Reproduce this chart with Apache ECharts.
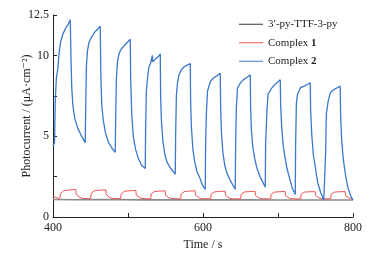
<!DOCTYPE html>
<html>
<head>
<meta charset="utf-8">
<script src="https://cdn.jsdelivr.net/npm/echarts@6/dist/echarts.min.js"></script>
<style>
  html, body { margin: 0; padding: 0; background: #fff; }
  #chart { width: 380px; height: 256px; }
</style>
</head>
<body>
<div id="chart"></div>
<script>
// [time (s), photocurrent (uA/cm2)]
const ligandCurrent = [
  [400, 1.08], [430, 1.07], [470, 1.08], [520, 1.06], [560, 1.07],
  [610, 1.06], [660, 1.06], [700, 1.05], [750, 1.05], [800, 1.05]
];

const complex1Current = [
  [400, 1.3], [403, 1.22], [406, 1.17], [409.3, 1.15],
  [409.8, 1.45], [411, 1.55], [414, 1.62], [420, 1.66], [430.5, 1.7],
  [431, 1.4], [433, 1.28], [436, 1.2], [440, 1.15], [450.3, 1.13],
  [450.8, 1.45], [452, 1.56], [455, 1.62], [461, 1.65], [470.5, 1.68],
  [471, 1.38], [473, 1.27], [476, 1.19], [480, 1.15], [490.3, 1.13],
  [490.8, 1.43], [492, 1.53], [495, 1.59], [501, 1.62], [510.5, 1.64],
  [511, 1.36], [513, 1.25], [516, 1.18], [520, 1.14], [530.3, 1.12],
  [530.8, 1.42], [532, 1.52], [535, 1.57], [541, 1.6], [549.5, 1.62],
  [550, 1.35], [552, 1.25], [555, 1.18], [559, 1.14], [570.3, 1.12],
  [570.8, 1.42], [572, 1.52], [575, 1.57], [581, 1.6], [589.5, 1.62],
  [590, 1.35], [592, 1.25], [595, 1.18], [599, 1.14], [610.3, 1.12],
  [610.8, 1.41], [612, 1.5], [615, 1.55], [621, 1.58], [629.5, 1.6],
  [630, 1.34], [632, 1.24], [635, 1.17], [639, 1.13], [650.3, 1.12],
  [650.8, 1.4], [652, 1.5], [655, 1.55], [661, 1.57], [669.5, 1.59],
  [670, 1.33], [672, 1.24], [675, 1.17], [679, 1.13], [690.3, 1.12],
  [690.8, 1.4], [692, 1.49], [695, 1.54], [701, 1.56], [709.5, 1.58],
  [710, 1.33], [712, 1.23], [715, 1.17], [719, 1.13], [730.3, 1.12],
  [730.8, 1.4], [732, 1.49], [735, 1.54], [741, 1.56], [749.5, 1.57],
  [750, 1.33], [752, 1.23], [755, 1.17], [759, 1.13], [770.3, 1.12],
  [770.8, 1.4], [772, 1.49], [775, 1.54], [781, 1.56], [789.5, 1.57],
  [790, 1.32], [792, 1.23], [795, 1.17], [800, 1.13]
];

const complex2Current = [
  [400, 4.4], [401, 4.3], [402, 4.6], [403, 7.2], [404.5, 8.6], [405.5, 8.5],
  [406.5, 9.2], [408, 10.1], [410, 10.8], [413, 11.3], [417, 11.7], [420, 11.9], [423, 12.2],
  [424, 9.8], [425, 8.0], [426.5, 6.9], [429, 6.1], [433, 5.5], [437, 5.1], [443, 4.6],
  [443.5, 6.5], [444.5, 9.3], [446, 10.3], [448, 10.8], [451, 11.1], [455, 11.4], [459, 11.6], [463, 11.8],
  [463.7, 9.0], [465, 6.9], [467, 6.0], [470, 5.2], [474, 4.6], [478, 4.3], [483, 4.0],
  [483.5, 6.0], [484.5, 8.6], [486, 9.6], [488, 10.1], [491, 10.4], [495, 10.6], [499, 10.8], [503, 11.0],
  [503.6, 8.4], [505, 6.4], [507, 5.0], [510, 4.2], [514, 3.6], [518, 3.2], [523, 3.0],
  [523.5, 5.5], [524.5, 7.8], [526, 8.6], [528, 9.3], [530, 9.5], [532, 9.6], [532.5, 10.0], [533, 9.6],
  [537, 9.8], [540, 9.9], [543, 10.1],
  [543.5, 7.5], [544.5, 6.0], [546.5, 4.7], [549, 3.9], [552, 3.4], [557, 3.0], [563, 2.65],
  [563.5, 5.0], [564.5, 7.5], [566, 8.3], [568, 8.8], [571, 9.1], [575, 9.3], [579, 9.4], [583, 9.5],
  [583.5, 7.2], [584.5, 5.6], [586.5, 4.2], [589, 3.4], [592, 2.8], [596, 2.4], [599, 2.0], [603, 1.7],
  [603.5, 4.5], [604.5, 6.4], [606, 7.8], [610, 8.4], [614, 8.6], [619, 8.75], [623, 8.9],
  [623.5, 6.8], [624.5, 5.3], [626.5, 4.0], [629, 3.2], [632, 2.7], [636, 2.3], [643, 1.7],
  [643.5, 4.5], [644.5, 6.8], [646, 8.0], [650, 8.3], [654, 8.5], [659, 8.65], [663, 8.8],
  [663.5, 6.8], [664.5, 5.4], [666.5, 4.3], [669, 3.6], [672, 3.0], [676, 2.5], [683, 1.85],
  [683.5, 4.5], [685.3, 6.6], [686.7, 7.6], [692, 8.0], [697, 8.25], [703, 8.5],
  [703.5, 7.0], [705, 5.5], [707, 4.4], [709, 3.8], [712, 3.0], [716, 2.3], [719, 1.8], [723, 1.4],
  [723.5, 4.5], [724.5, 7.0], [726, 7.6], [730, 8.0], [735, 8.1], [739, 8.2], [743, 8.3],
  [743.5, 6.6], [745, 5.1], [747, 3.9], [750, 3.0], [753, 2.1], [757, 1.5], [761, 1.05], [763, 1.05],
  [763.5, 4.0], [764.5, 6.4], [767, 7.2], [770, 7.7], [775, 7.9], [779, 8.0], [783, 8.1],
  [783.5, 6.2], [785, 4.7], [787, 3.6], [790, 2.6], [793, 1.85], [797, 1.3], [800, 1.05]
];

const seriesNames = ['3\u2032-py-TTF-3-py', 'Complex 1', 'Complex 2'];
const xLabels = [400, 600, 800];
const yLabels = [0, 5, 10, 12.5];

const serif = '"Liberation Serif", "DejaVu Serif", serif';
const chart = echarts.init(document.getElementById('chart'), null, { renderer: 'canvas' });

const option = {
  backgroundColor: '#fff',
  animation: false,
  grid: { left: 53, right: 27, top: 15, bottom: 39 },
  legend: {
    orient: 'vertical',
    left: 239,
    top: 17.5,
    padding: 0,
    itemWidth: 24,
    itemHeight: 1.2,
    itemGap: 5,
    icon: 'path://M0,0H24V1H0Z',
    textStyle: {
      fontFamily: serif, fontSize: 11, color: '#222', lineHeight: 13.5,
      rich: { b: { fontFamily: serif, fontSize: 11, fontWeight: 'bold', color: '#222' } }
    },
    formatter: name => {
      if (name === 'Complex 1') return 'Complex {b|1}';
      if (name === 'Complex 2') return 'Complex {b|2}';
      return name;
    },
    data: [
      { name: seriesNames[0], itemStyle: { color: '#333' } },
      { name: seriesNames[1] },
      { name: seriesNames[2] }
    ]
  },
  xAxis: {
    type: 'value',
    min: 400, max: 800, interval: 100,
    name: 'Time / s',
    nameLocation: 'middle',
    nameGap: 18,
    nameTextStyle: { fontFamily: serif, fontSize: 12, color: '#222' },
    axisLine: { lineStyle: { color: '#222', width: 1 } },
    axisTick: { inside: true, length: 4, lineStyle: { color: '#222' } },
    axisLabel: {
      margin: 5, fontFamily: serif, fontSize: 12, color: '#222',
      formatter: v => (xLabels.indexOf(v) >= 0 ? String(v) : '')
    },
    splitLine: { show: false }
  },
  yAxis: {
    type: 'value',
    min: 0, max: 12.5, interval: 2.5,
    name: 'Photocurrent / (\u03bcA\u00b7cm\u207b\u00b2)',
    nameLocation: 'middle',
    nameGap: 20,
    nameMoveOverlap: false,
    nameTextStyle: { fontFamily: serif, fontSize: 12, color: '#222' },
    axisLine: { show: true, lineStyle: { color: '#222', width: 1 } },
    axisTick: { show: true, inside: true, length: 4, lineStyle: { color: '#222' } },
    axisLabel: {
      margin: 4, fontFamily: serif, fontSize: 12, color: '#222',
      formatter: v => (yLabels.indexOf(v) >= 0 ? String(v) : '')
    },
    splitLine: { show: false }
  },
  series: [
    {
      name: seriesNames[0], type: 'line', symbol: 'none', data: ligandCurrent,
      lineStyle: { color: '#8a8a8a', width: 1.6 }, itemStyle: { color: '#8a8a8a' }
    },
    {
      name: seriesNames[1], type: 'line', symbol: 'none', data: complex1Current,
      lineStyle: { color: '#ee5555', width: 1 }, itemStyle: { color: '#ee5555' }
    },
    {
      name: seriesNames[2], type: 'line', symbol: 'none', data: complex2Current,
      lineStyle: { color: '#3c78cc', width: 1.3 }, itemStyle: { color: '#3c78cc' }
    }
  ]
};

chart.setOption(option);
</script>
</body>
</html>
